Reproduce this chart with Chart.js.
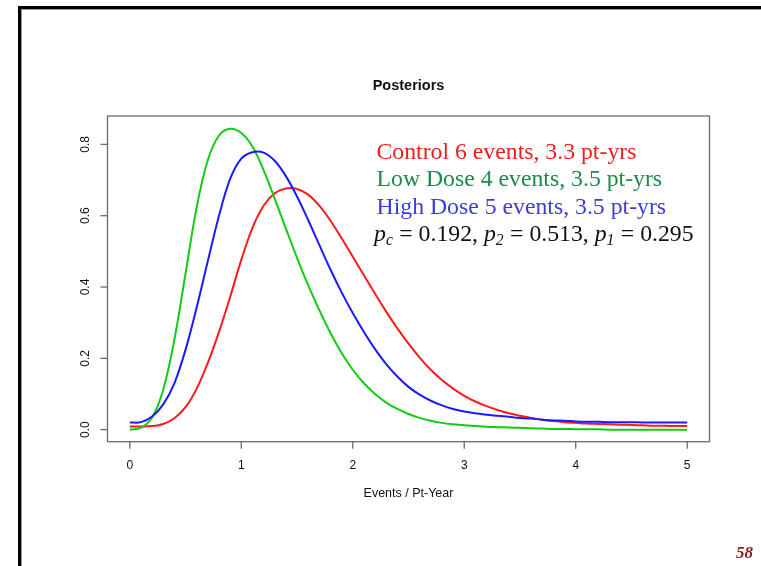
<!DOCTYPE html>
<html>
<head>
<meta charset="utf-8">
<script src="https://cdn.jsdelivr.net/npm/chart.js@4"></script>
<style>
  html, body { margin: 0; padding: 0; background: #fff; }
  canvas { display: block; }
</style>
</head>
<body>
<canvas id="posteriorChart" width="761" height="566"></canvas>
<script>
// event rate grid (events per patient-year)
const evRate = [0.0, 0.1, 0.2, 0.3, 0.4, 0.5, 0.6, 0.7, 0.8, 0.9,
                1.0, 1.1, 1.2, 1.3, 1.4, 1.5, 1.6, 1.7, 1.8, 1.9,
                2.0, 2.1, 2.2, 2.3, 2.4, 2.5, 2.6, 2.7, 2.8, 2.9,
                3.0, 3.1, 3.2, 3.3, 3.4, 3.5, 3.6, 3.7, 3.8, 3.9,
                4.0, 4.1, 4.2, 4.3, 4.4, 4.5, 4.6, 4.7, 4.8, 4.9, 5.0];

// posterior densities as plotted (control and high dose lifted a little so tails stay apart)
const controlDensity = [0.009, 0.009, 0.010, 0.016, 0.032, 0.063, 0.115, 0.187, 0.274, 0.372,
                        0.476, 0.566, 0.628, 0.663, 0.676, 0.675, 0.659, 0.628, 0.586, 0.537,
                        0.485, 0.433, 0.381, 0.331, 0.284, 0.241, 0.202, 0.168, 0.139, 0.115,
                        0.095, 0.079, 0.066, 0.055, 0.046, 0.039, 0.033, 0.028, 0.024, 0.021,
                        0.019, 0.017, 0.016, 0.015, 0.014, 0.013, 0.012, 0.011, 0.011, 0.010, 0.010];
const lowDoseDensity = [0.000, 0.005, 0.034, 0.112, 0.252, 0.438, 0.624, 0.756, 0.825, 0.844,
                        0.832, 0.794, 0.728, 0.648, 0.564, 0.482, 0.405, 0.335, 0.271, 0.215,
                        0.168, 0.130, 0.100, 0.076, 0.058, 0.044, 0.033, 0.025, 0.019, 0.015,
                        0.012, 0.010, 0.008, 0.007, 0.006, 0.005, 0.004, 0.003, 0.002, 0.002,
                        0.001, 0.001, 0.001, 0.000, 0.000, 0.000, 0.000, 0.000, 0.000, 0.000, 0.000];
const highDoseDensity = [0.020, 0.021, 0.037, 0.071, 0.130, 0.224, 0.343, 0.473, 0.600, 0.703,
                         0.760, 0.778, 0.777, 0.754, 0.711, 0.654, 0.588, 0.518, 0.449, 0.385,
                         0.327, 0.274, 0.226, 0.184, 0.149, 0.120, 0.098, 0.081, 0.068, 0.058,
                         0.051, 0.046, 0.042, 0.039, 0.036, 0.033, 0.031, 0.028, 0.026, 0.025,
                         0.023, 0.022, 0.022, 0.021, 0.021, 0.021, 0.020, 0.020, 0.020, 0.020, 0.020];

const xTickValues = [0, 1, 2, 3, 4, 5];
const xTickLabels = ['0', '1', '2', '3', '4', '5'];
const yTickValues = [0, 0.2, 0.4, 0.6, 0.8];
const yTickLabels = ['0.0', '0.2', '0.4', '0.6', '0.8'];

const armText = ['Control 6 events, 3.3 pt-yrs', 'Low Dose 4 events, 3.5 pt-yrs', 'High Dose 5 events, 3.5 pt-yrs'];
const armTextColors = ['#f01c1c', '#1b8a4c', '#3c3cd8'];
const probSubs = ['c', '2', '1'];
const probValues = ['0.192', '0.513', '0.295'];

const serif = '"Liberation Serif", "DejaVu Serif", serif';
const sans = '"Liberation Sans", Arial, sans-serif';

function pts(ys) {
  return evRate.map((x, i) => ({ x: x, y: ys[i] }));
}

const slideDecor = {
  id: 'slideDecor',
  beforeDraw(chart) {
    const ctx = chart.ctx;
    ctx.save();
    ctx.fillStyle = '#fff';
    ctx.fillRect(0, 0, chart.width, chart.height);
    // slide frame: top and left rules
    ctx.fillStyle = '#000';
    ctx.fillRect(18, 6, chart.width - 18, 3);
    ctx.fillRect(18, 6, 3, chart.height - 6);
    ctx.fillStyle = '#9a9a9a';
    ctx.fillRect(21, 9, chart.width - 21, 1);
    ctx.fillRect(21, 9, 1, chart.height - 9);
    ctx.restore();
  },
  afterDraw(chart) {
    const ctx = chart.ctx;
    const a = chart.chartArea;
    const xs = chart.scales.x, ys = chart.scales.y;
    const cx = (a.left + a.right) / 2;
    ctx.save();

    // plot box
    ctx.strokeStyle = '#6a6a6a';
    ctx.lineWidth = 1.3;
    ctx.strokeRect(a.left, a.top, a.right - a.left, a.bottom - a.top);

    // x axis ticks and labels
    ctx.fillStyle = '#111';
    ctx.font = '12px ' + sans;
    ctx.textAlign = 'center';
    ctx.textBaseline = 'middle';
    xTickValues.forEach((v, i) => {
      const px = xs.getPixelForValue(v);
      ctx.beginPath();
      ctx.moveTo(px, a.bottom);
      ctx.lineTo(px, a.bottom + 7);
      ctx.stroke();
      ctx.fillText(xTickLabels[i], px, 466);
    });

    // y axis ticks and rotated labels
    yTickValues.forEach((v, i) => {
      const py = ys.getPixelForValue(v);
      ctx.beginPath();
      ctx.moveTo(a.left, py);
      ctx.lineTo(a.left - 7, py);
      ctx.stroke();
      ctx.save();
      ctx.translate(86, py);
      ctx.rotate(-Math.PI / 2);
      ctx.fillText(yTickLabels[i], 0, 0);
      ctx.restore();
    });

    // title and axis label
    ctx.font = 'bold 14.5px ' + sans;
    ctx.fillText('Posteriors', cx, 86);
    ctx.font = '12.5px ' + sans;
    ctx.fillText('Events / Pt-Year', cx, 494);

    // arm descriptions
    ctx.textAlign = 'left';
    ctx.textBaseline = 'alphabetic';
    ctx.font = '20px ' + serif;
    const fs = 20 * 260 / ctx.measureText(armText[0]).width;
    const baselines = [158.5, 186, 213.5, 241];
    armText.forEach((t, i) => {
      ctx.font = fs + 'px ' + serif;
      ctx.fillStyle = armTextColors[i];
      ctx.fillText(t, 376.5, baselines[i]);
    });

    // posterior probabilities line
    ctx.fillStyle = '#111';
    let x = 374;
    const y = baselines[3];
    probSubs.forEach((s, i) => {
      ctx.font = 'italic ' + fs + 'px ' + serif;
      ctx.fillText('p', x, y);
      x += ctx.measureText('p').width;
      ctx.font = 'italic ' + (fs * 0.66) + 'px ' + serif;
      ctx.fillText(s, x, y + 4);
      x += ctx.measureText(s).width + 0.5;
      ctx.font = fs + 'px ' + serif;
      const rest = ' = ' + probValues[i] + (i < probSubs.length - 1 ? ', ' : '');
      ctx.fillText(rest, x, y);
      x += ctx.measureText(rest).width;
    });

    // slide number
    ctx.fillStyle = '#8c1c1c';
    ctx.font = 'italic bold 17px ' + serif;
    ctx.textAlign = 'right';
    ctx.fillText('58', 753, 558);

    ctx.restore();
  }
};

new Chart(document.getElementById('posteriorChart'), {
  type: 'line',
  data: {
    datasets: [
      { label: 'Control', data: pts(controlDensity), borderColor: '#ff1a1a', order: 3 },
      { label: 'Low Dose', data: pts(lowDoseDensity), borderColor: '#12cc12', order: 2 },
      { label: 'High Dose', data: pts(highDoseDensity), borderColor: '#1a1aff', order: 1 }
    ]
  },
  options: {
    responsive: false,
    animation: false,
    devicePixelRatio: 1,
    layout: { padding: { left: 107.5, top: 116, right: 51.5, bottom: 124.3 } },
    elements: {
      point: { radius: 0 },
      line: { borderWidth: 2, tension: 0.35, fill: false }
    },
    plugins: { legend: { display: false }, tooltip: { enabled: false } },
    scales: {
      x: { type: 'linear', min: -0.2, max: 5.2, display: false },
      y: { type: 'linear', min: -0.0338, max: 0.8796, display: false }
    }
  },
  plugins: [slideDecor]
});
</script>
</body>
</html>
